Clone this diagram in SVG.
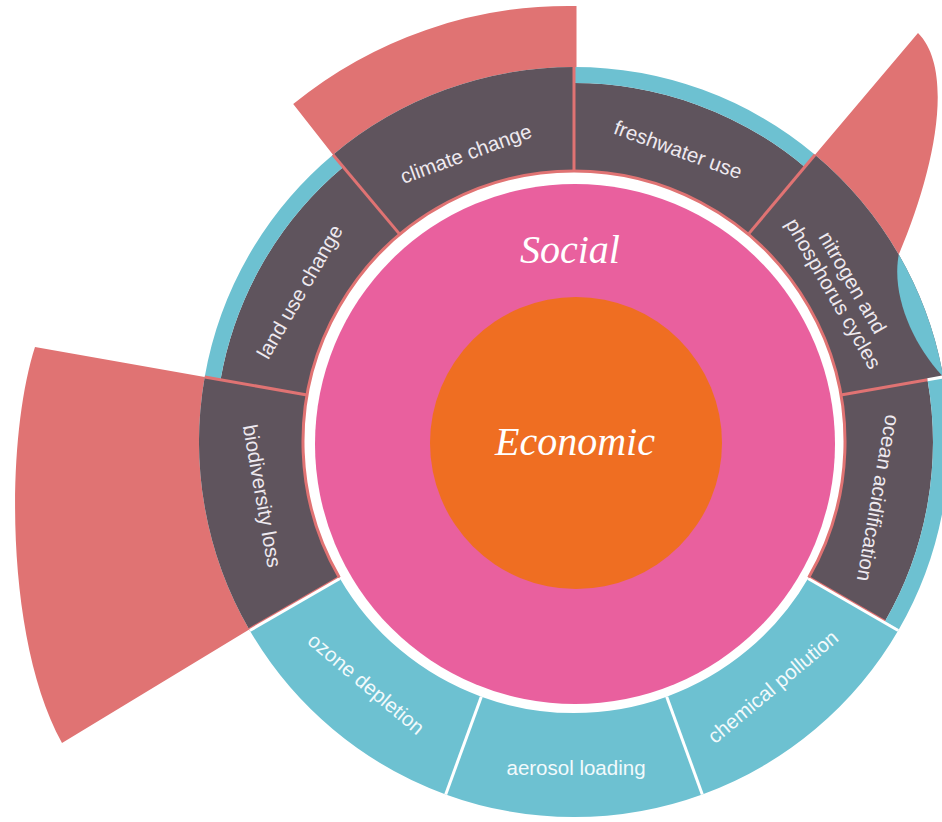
<svg xmlns="http://www.w3.org/2000/svg" width="942" height="822" viewBox="0 0 942 822">
<style>
.red{fill:#E07373}
.dark{fill:#5F545D}
.blue{fill:#6DC1D1}
.lbl{font-family:"Liberation Sans",Arial,sans-serif;font-size:20.5px;fill:#EEE9EF;text-anchor:middle}
.lblb{font-family:"Liberation Sans",Arial,sans-serif;font-size:20.5px;fill:#F2FAFC;text-anchor:middle}
.big{font-family:"Liberation Serif","Times New Roman",serif;font-style:italic;font-size:40px;fill:#FFFFFF;text-anchor:middle}
.sl{stroke:#E07373;stroke-width:3;fill:none}
.wl{stroke:#FFFFFF;stroke-width:3;fill:none}
</style>
<rect width="942" height="822" fill="#FFFFFF"/>

<g id="climate-change">
<path class="red" d="M333.0,154.7 L293.2,104 A436,436 0 0 1 576.5,6 L576.5,67 L574,67 A375,375 0 0 0 333.0,154.7Z"/>
<path class="dark" d="M399.8,234.4 L333.0,154.7 A375,375 0 0 1 574,67 L574,171 A271,271 0 0 0 399.8,234.4Z"/>
<text class="lbl" transform="translate(466,154) rotate(-20)" dy="0.33em">climate change</text>
</g>

<g id="freshwater-use">
<path class="dark" d="M574,171 L574,83 A359,359 0 0 1 804.8,167.0 L748.2,234.4 A271,271 0 0 0 574,171Z"/>
<path class="blue" d="M574,83 L574,67 A375,375 0 0 1 815.0,154.7 L804.8,167.0 A359,359 0 0 0 574,83Z"/>
<text class="lbl" transform="translate(678,150) rotate(20)" dy="0.33em">freshwater use</text>
</g>

<g id="nitrogen-phosphorus">
<path class="red" d="M815.0,154.7 L918,33 C955,70 935,170 898.8,254.5 A375,375 0 0 0 815.0,154.7Z"/>
<path class="dark" d="M748.2,234.4 L815.0,154.7 A375,375 0 0 1 943.3,376.9 L840.9,395.0 A271,271 0 0 0 748.2,234.4Z"/>
<path class="blue" d="M898.8,254.5 C891,295 913,345 943.3,376.9 A375,375 0 0 0 898.8,254.5Z"/>
<text class="lbl" transform="translate(843,288) rotate(60)"><tspan x="0" dy="-4">nitrogen and</tspan><tspan x="0" dy="22">phosphorus cycles</tspan></text>
</g>

<g id="ocean-acidification">
<path class="dark" d="M840.9,395.0 L927.5,379.7 A359,359 0 0 1 884.9,621.5 L808.7,577.5 A271,271 0 0 0 840.9,395.0Z"/>
<path class="blue" d="M927.5,379.7 L943.3,376.9 A375,375 0 0 1 898.8,629.5 L884.9,621.5 A359,359 0 0 0 927.5,379.7Z"/>
<text class="lbl" transform="translate(878,498) rotate(100)" dy="0.33em">ocean acidification</text>
</g>

<g id="chemical-pollution">
<path class="blue" d="M808.7,577.5 L898.8,629.5 A375,375 0 0 1 702.3,794.4 L666.7,696.7 A271,271 0 0 0 808.7,577.5Z"/>
<text class="lblb" transform="translate(773,687) rotate(-40)" dy="0.33em">chemical pollution</text>
</g>

<g id="aerosol-loading">
<path class="blue" d="M666.7,696.7 L702.3,794.4 A375,375 0 0 1 445.7,794.4 L481.3,696.7 A271,271 0 0 0 666.7,696.7Z"/>
<text class="lblb" transform="translate(576,768)" dy="0.33em">aerosol loading</text>
</g>

<g id="ozone-depletion">
<path class="blue" d="M481.3,696.7 L445.7,794.4 A375,375 0 0 1 249.2,629.5 L339.3,577.5 A271,271 0 0 0 481.3,696.7Z"/>
<text class="lblb" transform="translate(366,684) rotate(40)" dy="0.33em">ozone depletion</text>
</g>

<g id="biodiversity-loss">
<path class="red" d="M249.2,629.5 L62,743 C5,640 5,440 35,347 L204.7,376.9 A375,375 0 0 0 249.2,629.5Z"/>
<path class="dark" d="M339.3,577.5 L249.2,629.5 A375,375 0 0 1 204.7,376.9 L307.1,395.0 A271,271 0 0 0 339.3,577.5Z"/>
<text class="lbl" transform="translate(262,496) rotate(80)" dy="0.33em">biodiversity loss</text>
</g>

<g id="land-use-change">
<path class="dark" d="M307.1,395.0 L220.5,379.7 A359,359 0 0 1 343.2,167.0 L399.8,234.4 A271,271 0 0 0 307.1,395.0Z"/>
<path class="blue" d="M220.5,379.7 L204.7,376.9 A375,375 0 0 1 333.0,154.7 L343.2,167.0 A359,359 0 0 0 220.5,379.7Z"/>
<text class="lbl" transform="translate(300,292) rotate(-60)" dy="0.33em">land use change</text>
</g>

<g id="connectors">
<path class="sl" d="M574,171 L574,67"/>
<path class="sl" d="M748.2,234.4 L815.0,154.7"/>
<path class="sl" d="M840.9,395.0 L927.5,379.7"/>
<path class="sl" d="M307.1,395.0 L204.7,376.9"/>
<path class="sl" d="M399.8,234.4 L333.0,154.7"/>
<path class="sl" d="M808.7,577.5 L884.9,621.5"/>
<path class="sl" d="M339.3,577.5 L249.2,629.5"/>
<path class="wl" d="M927.5,379.7 L943.3,376.9"/>
<path class="wl" stroke-width="2.5" d="M808.1,578.5 L898.2,630.5"/>
<path class="wl" d="M666.7,696.7 L702.3,794.4"/>
<path class="wl" d="M481.3,696.7 L445.7,794.4"/>
<path class="wl" stroke-width="2.5" d="M339.9,578.5 L249.8,630.5"/>
<path class="sl" stroke-width="2" d="M339.3,577.5 A271,271 0 1 1 808.7,577.5"/>
</g>

<g id="social">
<circle cx="575" cy="444" r="260" fill="#E9609E"/>
<text class="big" x="570" y="263">Social</text>
</g>

<g id="economic">
<circle cx="576" cy="443" r="146" fill="#EF6E22"/>
<text class="big" x="575" y="455">Economic</text>
</g>
</svg>
